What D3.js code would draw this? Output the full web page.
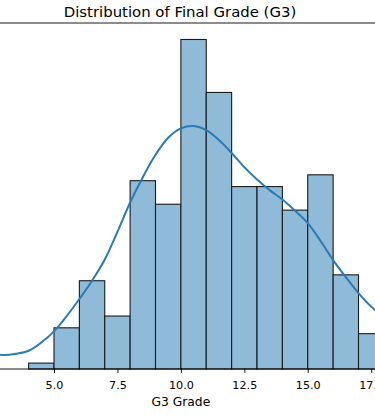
<!DOCTYPE html>
<html lang="en">
<head>
    <meta charset="UTF-8">
    <title>Distribution of Final Grade (G3)</title>
    <script src="https://d3js.org/d3.v7.min.js"></script>
    <style>
        body { margin: 0; background: #fff; }
        svg { display: block; font-family: "DejaVu Sans", sans-serif; }
    </style>
</head>
<body>
    <script>
        // histogram bins (left edge of each 1-point bin) and student counts
        var binStarts = [0, 1, 2, 3, 4, 5, 6, 7, 8, 9, 10, 11, 12, 13, 14, 15, 16, 17, 18, 19];
        var binCounts = [38, 0, 0, 0, 1, 7, 15, 9, 32, 28, 56, 47, 31, 31, 27, 33, 16, 6, 12, 6];
        var binWidth = 1;

        // kde curve (in count units)
        var kdeGrades = [2, 2.5, 3, 3.5, 4, 4.5, 5, 5.5, 6, 6.5, 7, 7.5, 8, 8.5, 9, 9.5, 10, 10.5, 11, 11.5, 12, 12.5, 13, 13.5, 14, 14.5, 15, 15.5, 16, 16.5, 17, 17.5, 18];
        var kdeCounts = [3.4, 2.7, 2.4, 2.6, 3.1, 4.5, 6.4, 9.0, 11.9, 15.0, 18.6, 23.3, 28.3, 32.6, 36.4, 39.3, 40.9, 41.3, 40.6, 38.9, 36.7, 34.3, 32.2, 30.4, 28.8, 26.9, 24.8, 21.8, 18.5, 15.6, 12.9, 10.6, 8.8];

        var xTicks = [2.5, 5.0, 7.5, 10.0, 12.5, 15.0, 17.5, 20.0];

        var width = 375, height = 418;
        var svg = d3.select("body").append("svg")
            .attr("width", width)
            .attr("height", height);

        var x = d3.scaleLinear().domain([5, 17.5]).range([54, 371.2]);
        var y = d3.scaleLinear().domain([0, 58.8]).range([369, 23]);

        // bars
        svg.selectAll("rect.bar")
            .data(binStarts)
            .enter()
            .append("rect")
            .attr("class", "bar")
            .attr("x", function(d){ return x(d); })
            .attr("y", function(d, i){ return y(binCounts[i]); })
            .attr("width", function(d){ return x(d + binWidth) - x(d); })
            .attr("height", function(d, i){ return y(0) - y(binCounts[i]); })
            .style("fill", "#8fbbd9")
            .style("stroke", "#1a1a1a")
            .style("stroke-width", 1.1);

        // kde line
        var line = d3.line()
            .x(function(d, i){ return x(kdeGrades[i]); })
            .y(function(d){ return y(d); })
            .curve(d3.curveCatmullRom);
        svg.append("path")
            .datum(kdeCounts)
            .attr("d", line)
            .style("fill", "none")
            .style("stroke", "#2a7ab5")
            .style("stroke-width", 2);

        // frame (only top and bottom spines fall inside the picture)
        svg.append("rect")
            .attr("x", x(-1))
            .attr("y", y(58.8))
            .attr("width", x(21) - x(-1))
            .attr("height", y(0) - y(58.8))
            .style("fill", "none")
            .style("stroke", "#000")
            .style("stroke-width", 0.9);

        // x axis
        var xAxis = d3.axisBottom(x)
            .tickValues(xTicks)
            .tickFormat(d3.format(".1f"))
            .tickSize(3.9)
            .tickPadding(8);
        var gx = svg.append("g")
            .attr("transform", "translate(0," + y(0) + ")")
            .call(xAxis);
        gx.select(".domain").remove();
        gx.selectAll("line").style("stroke", "#000").style("stroke-width", 0.9);
        gx.selectAll("text")
            .style("font-family", "DejaVu Sans")
            .style("font-size", "11.2px")
            .style("fill", "#000");

        svg.append("text")
            .attr("x", x(10))
            .attr("y", 405.5)
            .attr("text-anchor", "middle")
            .style("font-size", "12.3px")
            .text("G3 Grade");

        svg.append("text")
            .attr("x", 180)
            .attr("y", 17.3)
            .attr("text-anchor", "middle")
            .style("font-size", "14.9px")
            .text("Distribution of Final Grade (G3)");
    </script>
</body>
</html>
